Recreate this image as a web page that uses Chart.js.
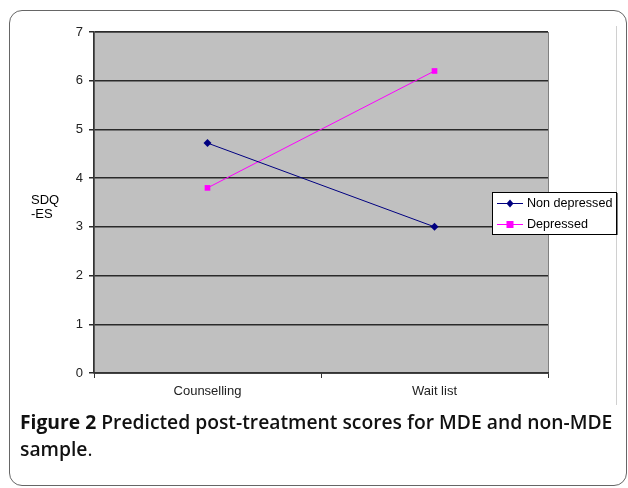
<!DOCTYPE html>
<html>
<head>
<meta charset="utf-8">
<script src="https://cdn.jsdelivr.net/npm/chart.js@4"></script>
<style>
  html, body { margin: 0; padding: 0; background: #fff; }
  #wrap { position: relative; width: 628px; height: 488px; overflow: hidden; }
  #frame { position: absolute; left: 9px; top: 10px; width: 618px; height: 476px; box-sizing: border-box;
           border: 1px solid #666; border-radius: 13px; }
  #c { position: absolute; left: 0; top: 0; }
  #caption { position: absolute; left: 20px; top: 408px; width: 605px; font-family: "Open Sans", "Noto Sans", sans-serif;
             font-size: 19.3px; font-weight: 600; line-height: 27px; color: #111; white-space: nowrap; }
  #caption b { font-weight: 700; }
  #caption .p { font-weight: 400; }
</style>
</head>
<body>
<div id="wrap">
  <div id="frame"></div>
  <canvas id="c" width="628" height="488"></canvas>
  <div id="caption"><b>Figure 2</b> Predicted post-treatment scores for MDE and non-MDE<br>sample<span class="p">.</span></div>
</div>
<script>
const categories = ["Counselling", "Wait list"];
const nonDepressed = [4.72, 3.0];
const depressed = [3.8, 6.2];
const yTicks = [0, 1, 2, 3, 4, 5, 6, 7];
const seriesNames = ["Non depressed", "Depressed"];
const yTitle = ["SDQ", "-ES"];

Chart.defaults.font.family = '"Liberation Sans", Arial, sans-serif';
Chart.defaults.font.size = 13;
Chart.defaults.color = '#111';

const plotBg = {
  id: 'plotBg',
  beforeDraw(chart) {
    const {ctx, chartArea: a} = chart;
    ctx.save();
    ctx.fillStyle = '#C0C0C0';
    ctx.fillRect(a.left, a.top, a.right - a.left, a.bottom - a.top);
    ctx.strokeStyle = '#808080';
    ctx.lineWidth = 1;
    ctx.strokeRect(a.left + 0.5, a.top + 0.5, a.right - a.left, a.bottom - a.top);
    ctx.restore();
  },
  afterDraw(chart) {
    const {ctx} = chart;
    ctx.save();
    ctx.strokeStyle = '#d0d0d0';
    ctx.lineWidth = 1;
    ctx.beginPath();
    ctx.moveTo(616.5, 26);
    ctx.lineTo(616.5, 405);
    ctx.stroke();
    ctx.fillStyle = '#000';
    ctx.font = '13px "Liberation Sans", Arial, sans-serif';
    ctx.textBaseline = 'middle';
    ctx.textAlign = 'left';
    ctx.fillText(yTitle[0], 31, 200);
    ctx.fillText(yTitle[1], 31, 214);
    const lx = 492, ly = 192, lw = 124, lh = 42;
    ctx.fillStyle = '#fff';
    ctx.fillRect(lx, ly, lw, lh);
    ctx.strokeStyle = '#000';
    ctx.lineWidth = 1;
    ctx.strokeRect(lx + 0.5, ly + 0.5, lw, lh);
    ctx.fillStyle = '#000';
    ctx.fillRect(lx + lw, ly + 1, 1.5, lh);
    chart.data.datasets.forEach((ds, i) => {
      const y = ly + 11 + i * 21;
      ctx.strokeStyle = ds.borderColor;
      ctx.lineWidth = 1;
      ctx.beginPath();
      ctx.moveTo(lx + 5, y + 0.5);
      ctx.lineTo(lx + 31, y + 0.5);
      ctx.stroke();
      ctx.fillStyle = ds.backgroundColor;
      const mx = lx + 18;
      if (ds.pointStyle === 'rect') {
        ctx.fillRect(mx - 3.5, y - 3, 7, 7);
      } else {
        ctx.beginPath();
        ctx.moveTo(mx, y - 3.5); ctx.lineTo(mx + 3.5, y + 0.5); ctx.lineTo(mx, y + 4.5); ctx.lineTo(mx - 3.5, y + 0.5);
        ctx.closePath(); ctx.fill();
      }
      ctx.fillStyle = '#000';
      ctx.font = '12.6px "Liberation Sans", Arial, sans-serif';
      ctx.textAlign = 'left';
      ctx.textBaseline = 'middle';
      ctx.fillText(ds.label, lx + 35, y + 1);
    });
    ctx.restore();
  }
};

new Chart(document.getElementById('c'), {
  type: 'line',
  data: {
    labels: categories,
    datasets: [
      { label: seriesNames[0], data: nonDepressed, borderColor: '#000080', backgroundColor: '#000080',
        borderWidth: 1, pointStyle: 'rectRot', pointRadius: 4, pointBorderWidth: 0, tension: 0 },
      { label: seriesNames[1], data: depressed, borderColor: '#FF00FF', backgroundColor: '#FF00FF',
        borderWidth: 1, pointStyle: 'rect', pointRadius: 4, pointBorderWidth: 0, tension: 0 }
    ]
  },
  options: {
    responsive: false,
    animation: false,
    devicePixelRatio: 1,
    layout: { padding: { left: 0, right: 80, top: 32, bottom: 85 } },
    plugins: { legend: { display: false }, tooltip: { enabled: false } },
    scales: {
      x: {
        offset: true,
        grid: { offset: true, drawOnChartArea: false, drawTicks: true, tickLength: 5, color: '#333' },
        border: { color: '#333', width: 1.5 },
        ticks: { padding: 6, color: '#222' },
        afterFit(s) { s.height = 30; }
      },
      y: {
        min: 0, max: 7,
        afterBuildTicks(s) { s.ticks = yTicks.map(v => ({value: v})); },
        grid: { color: '#2a2a2a', lineWidth: 1.5, tickLength: 5 },
        border: { color: '#333', width: 1.5 },
        ticks: { padding: 6, color: '#222' },
        afterFit(s) { s.width = 94; }
      }
    }
  },
  plugins: [plotBg]
});
</script>
</body>
</html>
